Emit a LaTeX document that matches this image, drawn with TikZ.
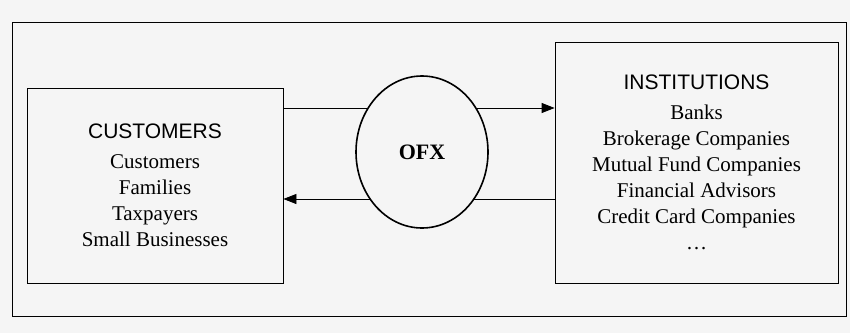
\documentclass[tikz,border=0pt]{standalone}
\usepackage{fontspec}
\setmainfont{Liberation Serif}
\setsansfont{Liberation Sans}
\usetikzlibrary{arrows.meta, shapes.geometric}

\begin{document}
\begin{tikzpicture}[x=1pt,y=1pt,
  party/.style={draw, line width=.8pt, align=center, inner sep=0pt,
    font=\fontsize{21}{26}\selectfont},
  flow/.style={draw, line width=.8pt, -{Triangle[length=13pt,width=10pt]}}]
  \fill[black!4] (0,0) rectangle (850,333);
  \useasboundingbox (0,0) rectangle (850,333);
  \draw[line width=.8pt] (12,17) rectangle (846,311);
  % the two sides
  \node[party, minimum width=256pt, minimum height=195pt] (cust) at (155,147.5)
    {{\sffamily CUSTOMERS}\\[4pt] Customers\\ Families\\ Taxpayers\\ Small Businesses};
  \node[party, minimum width=283pt, minimum height=241pt] (inst) at (696.5,170.5)
    {{\sffamily INSTITUTIONS}\\[4pt] Banks\\ Brokerage Companies\\ Mutual Fund Companies\\
     Financial Advisors\\ Credit Card Companies\\ \dots};
  % requests and answers
  \coordinate (up) at (0,225);
  \coordinate (down) at (0,134);
  \draw[flow] (up -| cust.east) -- (up -| inst.west);
  \draw[flow] (down -| inst.west) -- (down -| cust.east);
  \node[ellipse, draw, line width=1.6pt, fill=black!4, minimum width=132pt,
    minimum height=152pt, font=\bfseries\fontsize{22}{26}\selectfont] (ofx) at (422,181) {OFX};
\end{tikzpicture}
\end{document}
